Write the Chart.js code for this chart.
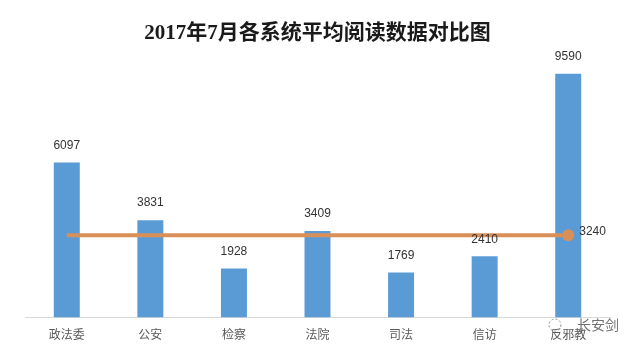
<!DOCTYPE html>
<html>
<head>
<meta charset="utf-8">
<script src="https://cdn.jsdelivr.net/npm/chart.js@4"></script>
<style>
  body { margin: 0; background: #fff; }
  canvas { display: block; }
</style>
</head>
<body>
<canvas id="myChart" width="640" height="353"></canvas>
<script>
const titulo = "2017年7月各系统平均阅读数据对比图";
const categorias = ["政法委", "公安", "检察", "法院", "司法", "信访", "反邪教"];
const lecturas = [6097, 3831, 1928, 3409, 1769, 2410, 9590];
const promedio = [3240, 3240, 3240, 3240, 3240, 3240, 3240];
const marcaAgua = "长安剑";

// etiquetas de valor y marca de agua
const etiquetasPlugin = {
  id: "etiquetas",
  afterDatasetsDraw(chart) {
    const ctx = chart.ctx;
    ctx.save();
    ctx.font = '12px "Liberation Sans", sans-serif';
    ctx.fillStyle = "#333333";
    ctx.textAlign = "center";
    ctx.textBaseline = "middle";
    chart.getDatasetMeta(1).data.forEach((barra, i) => {
      ctx.fillText(lecturas[i], barra.x, barra.y - 17);
    });
    const puntos = chart.getDatasetMeta(0).data;
    const ultimo = puntos[puntos.length - 1];
    ctx.textAlign = "left";
    ctx.fillText(promedio[promedio.length - 1], ultimo.x + 11, ultimo.y - 3);
    ctx.restore();
  },
  afterDraw(chart) {
    const ctx = chart.ctx;
    ctx.save();
    ctx.strokeStyle = "#8a8a8a";
    ctx.lineWidth = 1;
    ctx.setLineDash([2, 2]);
    ctx.beginPath();
    ctx.arc(555, 325, 6, 0, Math.PI * 2);
    ctx.stroke();
    ctx.setLineDash([]);
    ctx.font = '14px "Noto Sans CJK SC", sans-serif';
    ctx.fillStyle = "#707070";
    ctx.textAlign = "left";
    ctx.textBaseline = "middle";
    ctx.fillText(marcaAgua, 577, 325);
    ctx.restore();
  }
};

new Chart(document.getElementById("myChart"), {
  data: {
    labels: categorias,
    datasets: [
      {
        type: "line",
        data: promedio,
        borderColor: "#d98f58",
        backgroundColor: "#d98f58",
        borderWidth: 4,
        pointRadius: c => (c.dataIndex === promedio.length - 1 ? 4 : 0),
        order: 0
      },
      {
        type: "bar",
        data: lecturas,
        backgroundColor: "#5b9bd5",
        categoryPercentage: 1,
        barPercentage: 0.311,
        order: 1
      }
    ]
  },
  options: {
    responsive: false,
    animation: false,
    layout: { padding: { left: 25, right: 30, top: 0, bottom: 9 } },
    plugins: {
      legend: { display: false },
      tooltip: { enabled: false },
      title: {
        display: true,
        text: titulo,
        color: "#1a1a1a",
        font: { family: '"Liberation Serif", "Noto Sans CJK SC", serif', size: 21, weight: "bold" },
        padding: { top: 21, bottom: 17 }
      }
    },
    scales: {
      x: {
        grid: { display: false },
        border: { color: "#d9d9d9" },
        ticks: { color: "#595959", padding: 2, maxRotation: 0, font: { family: '"Noto Sans CJK SC", sans-serif', size: 12 } }
      },
      y: { display: false, min: 0, max: 10000 }
    }
  },
  plugins: [etiquetasPlugin]
});
</script>
</body>
</html>
